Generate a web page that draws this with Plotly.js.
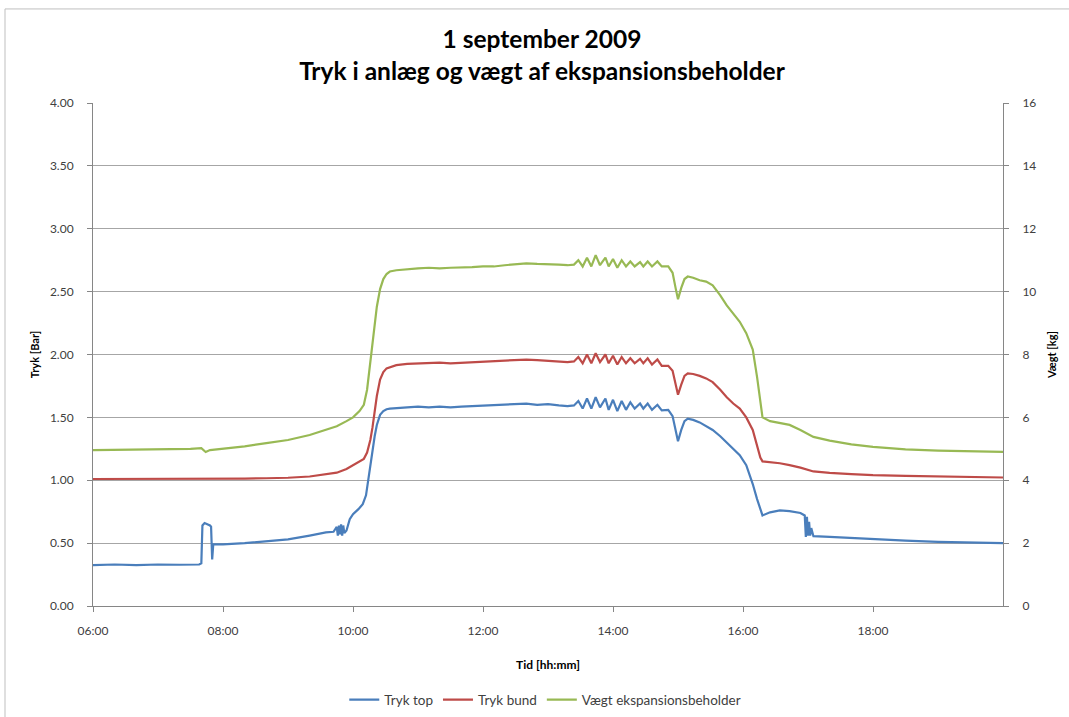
<!DOCTYPE html>
<html>
<head>
<meta charset="utf-8">
<script src="https://cdn.plot.ly/plotly-3.0.1.min.js"></script>
<style>html,body{margin:0;padding:0;background:#fff;}#chart{width:1069px;height:717px;}</style>
</head>
<body>
<div id="chart"></div>
<script>
// ---- data ----
var DAY = '2009-09-01 ';
var tickTimes = ['06:00','08:00','10:00','12:00','14:00','16:00','18:00'];
var tickLabels = ['06:00','08:00','10:00','12:00','14:00','16:00','18:00'];

// shared time stamps for "Tryk bund" and "Vægt ekspansionsbeholder"
var timeRG = [
 '06:00','06:30','07:00','07:30','07:40','07:44','07:48','08:00','08:20','08:40',
 '09:00','09:20','09:35','09:45','09:54','10:00','10:06','10:10','10:13','10:16',
 '10:18','10:20','10:22','10:25','10:28','10:31','10:34','10:40','10:50','11:00',
 '11:10','11:20','11:30','11:40','11:50','12:00','12:10','12:20','12:30','12:40',
 '12:50','13:00','13:10','13:18','13:24','13:28','13:32','13:36','13:40','13:44',
 '13:48','13:53','13:56','14:00','14:04','14:08','14:12','14:16','14:20','14:25',
 '14:28','14:32','14:36','14:41','14:45','14:51','14:55','14:58','15:00','15:03',
 '15:06','15:09','15:14','15:20','15:26','15:32','15:39','15:45','15:51','15:57',
 '16:03','16:09','16:13','16:16','16:18','16:25','16:34','16:43','16:53','17:05',
 '17:20','17:40','18:00','18:30','19:00','19:30','20:00'
];
// Tryk bund [bar]
var trykBund = [
 1.010,1.010,1.012,1.010,1.012,1.008,1.010,1.012,1.013,1.016,
 1.020,1.030,1.045,1.060,1.090,1.120,1.150,1.170,1.220,1.320,
 1.420,1.550,1.670,1.800,1.860,1.890,1.900,1.915,1.925,1.930,
 1.930,1.935,1.930,1.935,1.940,1.940,1.945,1.950,1.955,1.960,
 1.955,1.950,1.945,1.940,1.945,1.980,1.930,2.000,1.930,2.010,
 1.940,2.000,1.930,1.990,1.920,1.980,1.930,1.970,1.930,1.965,
 1.930,1.970,1.920,1.960,1.910,1.910,1.870,1.760,1.680,1.760,
 1.830,1.850,1.845,1.830,1.810,1.780,1.720,1.660,1.610,1.570,
 1.500,1.400,1.280,1.180,1.150,1.145,1.135,1.120,1.100,1.070,
 1.058,1.048,1.040,1.035,1.030,1.025,1.022
];
// Vægt ekspansionsbeholder [kg]
var vaegt = [
 4.96,4.97,4.98,5.00,5.02,4.90,4.96,5.00,5.08,5.18,
 5.28,5.44,5.60,5.72,5.88,6.00,6.20,6.40,6.88,7.80,
 8.48,9.00,9.52,10.08,10.40,10.56,10.64,10.68,10.72,10.74,
 10.76,10.74,10.76,10.76,10.78,10.80,10.80,10.84,10.88,10.90,
 10.88,10.88,10.86,10.84,10.86,11.00,10.80,11.08,10.80,11.16,
 10.84,11.08,10.80,11.04,10.76,11.00,10.80,10.96,10.80,10.94,
 10.80,10.96,10.80,10.96,10.80,10.80,10.60,10.08,9.76,10.12,
 10.40,10.48,10.44,10.36,10.32,10.20,9.88,9.56,9.28,9.04,
 8.68,8.16,7.28,6.48,6.00,5.88,5.82,5.76,5.60,5.38,
 5.26,5.14,5.06,4.98,4.94,4.92,4.90
];

// time stamps for "Tryk top"
var timeTop = [
 '06:00','06:20','06:40','07:00','07:20','07:38','07:40','07:41','07:43','07:46',
 '07:48','07:49','07:50','07:51','08:00','08:20','08:40','09:00','09:20','09:35',
 '09:42','09:45','09:46','09:47','09:48','09:49','09:50','09:51','09:52','09:54',
 '09:57','10:00','10:05','10:09','10:12','10:14','10:16','10:18','10:20','10:22',
 '10:25','10:28','10:31','10:34','10:40','10:50','11:00','11:10','11:20','11:30',
 '11:40','11:50','12:00','12:10','12:20','12:30','12:40','12:50','13:00','13:10',
 '13:18','13:24','13:28','13:32','13:36','13:40','13:44','13:48','13:53','13:56',
 '14:00','14:04','14:08','14:12','14:16','14:20','14:25','14:28','14:32','14:36',
 '14:41','14:45','14:51','14:55','14:58','15:00','15:03','15:06','15:09','15:14',
 '15:20','15:26','15:32','15:39','15:45','15:51','15:57','16:03','16:09','16:13',
 '16:16','16:18','16:25','16:34','16:43','16:53','16:57','16:58','16:59','17:00',
 '17:01','17:02','17:03','17:05','17:20','17:40','18:00','18:30','19:00','19:30',
 '20:00'
];
// Tryk top [bar]
var trykTop = [
 0.325,0.330,0.325,0.330,0.328,0.330,0.340,0.640,0.660,0.650,
 0.640,0.630,0.370,0.490,0.490,0.500,0.515,0.530,0.560,0.585,
 0.590,0.630,0.560,0.640,0.570,0.650,0.560,0.640,0.580,0.600,
 0.690,0.730,0.770,0.810,0.880,1.000,1.120,1.250,1.350,1.440,
 1.520,1.550,1.565,1.570,1.575,1.580,1.585,1.580,1.585,1.580,
 1.585,1.590,1.590,1.595,1.600,1.605,1.610,1.600,1.605,1.595,
 1.590,1.595,1.630,1.570,1.650,1.570,1.660,1.580,1.650,1.560,
 1.640,1.550,1.630,1.560,1.620,1.570,1.610,1.570,1.610,1.560,
 1.600,1.555,1.560,1.510,1.400,1.310,1.400,1.470,1.490,1.480,
 1.460,1.430,1.400,1.350,1.300,1.250,1.200,1.120,0.970,0.850,
 0.760,0.720,0.745,0.760,0.755,0.740,0.720,0.550,0.710,0.560,
 0.670,0.560,0.620,0.555,0.550,0.540,0.530,0.520,0.510,0.505,
 0.500
];

var seriesNames = ['Tryk top','Tryk bund','Vægt ekspansionsbeholder'];
var seriesColors = ['#4a7ebb','#be4b48','#98b954'];

function toDate(arr){ return arr.map(function(t){ return DAY + t; }); }

var traces = [
 {x: toDate(timeTop), y: trykTop, name: seriesNames[0], type:'scatter', mode:'lines',
  line:{color:seriesColors[0], width:2.2}, yaxis:'y'},
 {x: toDate(timeRG), y: trykBund, name: seriesNames[1], type:'scatter', mode:'lines',
  line:{color:seriesColors[1], width:2.2}, yaxis:'y'},
 {x: toDate(timeRG), y: vaegt, name: seriesNames[2], type:'scatter', mode:'lines',
  line:{color:seriesColors[2], width:2.2}, yaxis:'y2'}
];

var FONT = 'Lato, "Open Sans", "DejaVu Sans", sans-serif';
var axisGrey = '#868686';

var layout = {
 width:1069, height:717,
 paper_bgcolor:'#ffffff', plot_bgcolor:'#ffffff',
 margin:{l:93, r:66, t:103, b:111, pad:0, autoexpand:false},
 font:{family:FONT, size:12, color:'#404040'},
 showlegend:true,
 title:{
  text:'<b>1 september 2009</b><br><b>Tryk i anlæg og vægt af ekspansionsbeholder</b>',
  font:{family:FONT, size:24.5, color:'#000000'},
  x:0.507, xref:'container', xanchor:'center',
  y:0.933, yref:'container', yanchor:'top',
  automargin:false
 },
 xaxis:{
  type:'date', automargin:false,
  range:[DAY+'06:00', DAY+'20:00'],
  tickvals: toDate(tickTimes), ticktext: tickLabels,
  ticks:'outside', ticklen:5, tickcolor:axisGrey, tickwidth:1,
  showline:true, linecolor:axisGrey, linewidth:1,
  showgrid:false, zeroline:false,
  ticklabelstandoff:9,
  tickfont:{family:FONT, size:12, color:'#404040'},
  title:{text:'<b>Tid [hh:mm]</b>', font:{family:FONT, size:12, color:'#000'}, standoff:23}
 },
 yaxis:{
  automargin:false,
  range:[0,4], dtick:0.5, tick0:0, tickformat:'.2f',
  ticks:'outside', ticklen:5, tickcolor:axisGrey,
  showline:true, linecolor:axisGrey, linewidth:1,
  showgrid:true, gridcolor:'#a6a6a6', gridwidth:1, zeroline:false,
  ticklabelstandoff:11,
  tickfont:{family:FONT, size:12, color:'#404040'},
  title:{text:'<b>Tryk [Bar]</b>', font:{family:FONT, size:11, color:'#000'}, standoff:8}
 },
 yaxis2:{
  automargin:false,
  range:[0,16], dtick:2, tick0:0,
  overlaying:'y', side:'right',
  ticks:'outside', ticklen:5, tickcolor:axisGrey,
  showline:true, linecolor:axisGrey, linewidth:1,
  showgrid:false, zeroline:false,
  ticklabelstandoff:11,
  tickfont:{family:FONT, size:12, color:'#404040'},
  title:{text:'<b>Vægt [kg]</b>', font:{family:FONT, size:11, color:'#000'}, standoff:12}
 },
 legend:{
  orientation:'h', x:0.497, xanchor:'center',
  y:0.024, yref:'container', yanchor:'middle',
  font:{family:FONT, size:13.5, color:'#404040'},
  bgcolor:'rgba(0,0,0,0)', itemwidth:30
 },
 shapes:[
  {type:'rect', xref:'paper', yref:'paper', x0:-0.0967, x1:1.09, y0:-0.26, y1:1.187,
   line:{color:'#bfbfbf', width:1}, fillcolor:'rgba(0,0,0,0)', layer:'below'}
 ]
};

Plotly.newPlot('chart', traces, layout, {displayModeBar:false, responsive:false});
</script>
</body>
</html>
